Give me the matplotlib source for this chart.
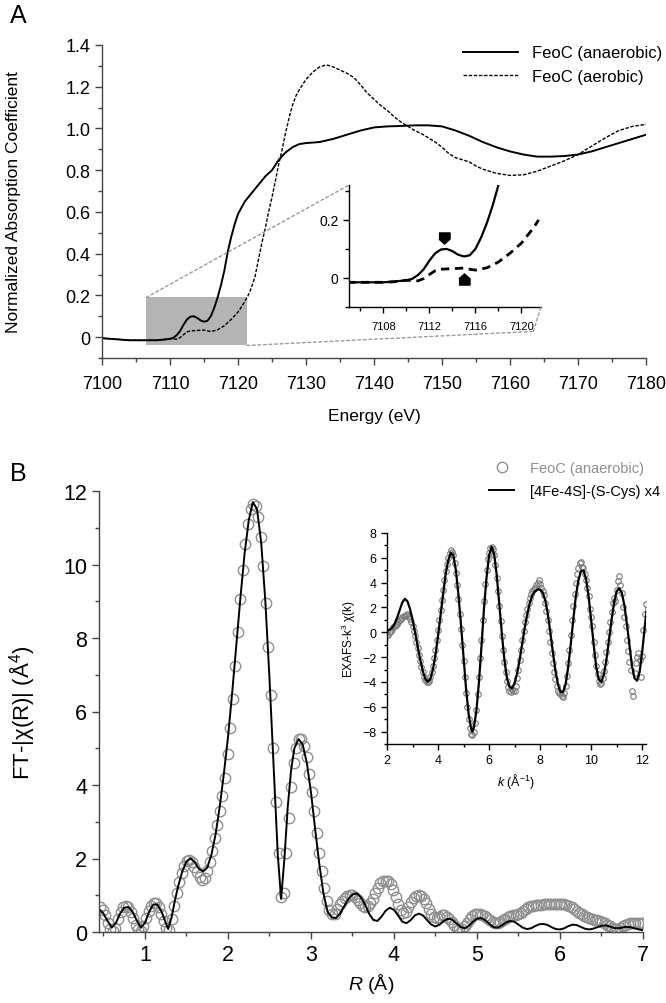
import matplotlib
matplotlib.use('Agg')
import matplotlib.pyplot as plt
import numpy as np
from matplotlib.patches import Rectangle, ConnectionPatch
from matplotlib.ticker import MultipleLocator, FuncFormatter

plt.rcParams['font.family'] = ['Liberation Sans', 'DejaVu Sans']
plt.rcParams['mathtext.fontset'] = 'custom'
plt.rcParams['mathtext.rm'] = 'Liberation Sans'
plt.rcParams['mathtext.it'] = 'Liberation Sans:italic'

# ---- panel A: XANES ----
E_ana = [7100, 7102, 7104, 7106, 7108, 7109, 7110, 7110.5, 7111, 7111.5, 7112, 7112.5, 7113, 7113.5,
         7114, 7114.5, 7115, 7115.5, 7116, 7116.5, 7117, 7117.5, 7118, 7118.5, 7119, 7119.5, 7120,
         7121, 7122, 7123, 7124, 7125, 7126, 7127, 7128, 7129, 7130, 7132, 7134, 7136, 7138, 7140,
         7142, 7144, 7146, 7148, 7150, 7152, 7154, 7156, 7158, 7160, 7162, 7164, 7166, 7168, 7170,
         7172, 7174, 7176, 7178, 7180]
mu_ana = [-0.005, -0.01, -0.015, -0.015, -0.015, -0.012, -0.008, -0.003, 0.01, 0.03, 0.06, 0.085, 0.098, 0.1,
          0.092, 0.08, 0.074, 0.078, 0.1, 0.14, 0.19, 0.25, 0.32, 0.41, 0.48, 0.54, 0.59,
          0.65, 0.69, 0.73, 0.77, 0.8, 0.85, 0.885, 0.91, 0.925, 0.93, 0.935, 0.95, 0.97, 0.99, 1.005,
          1.01, 1.012, 1.015, 1.015, 1.01, 0.99, 0.965, 0.935, 0.91, 0.89, 0.875, 0.865, 0.865, 0.868, 0.875,
          0.89, 0.91, 0.93, 0.95, 0.97]

E_aer = [7100, 7102, 7104, 7106, 7108, 7109, 7110, 7111, 7111.5, 7112, 7112.5, 7113, 7114, 7115, 7115.5,
         7116, 7117, 7118, 7119, 7120, 7121, 7121.5, 7122, 7122.5, 7123, 7123.5, 7124, 7124.5, 7125,
         7125.5, 7126, 7126.5, 7127, 7127.5, 7128, 7128.5, 7129, 7130, 7131, 7132, 7133, 7134, 7135,
         7136, 7137, 7138, 7139, 7140, 7141, 7142, 7143, 7144, 7145, 7146, 7147, 7148, 7149, 7150,
         7151, 7152, 7153, 7154, 7155, 7156, 7158, 7160, 7162, 7164, 7166, 7168, 7170, 7172, 7174,
         7176, 7178, 7180]
mu_aer = [-0.005, -0.01, -0.015, -0.015, -0.015, -0.013, -0.008, -0.01, -0.002, 0.012, 0.025, 0.03, 0.032, 0.034, 0.03,
          0.027, 0.035, 0.055, 0.085, 0.12, 0.17, 0.2, 0.24, 0.29, 0.37, 0.45, 0.52, 0.6, 0.67,
          0.75, 0.83, 0.9, 0.98, 1.05, 1.11, 1.155, 1.185, 1.235, 1.27, 1.295, 1.305, 1.295, 1.28,
          1.265, 1.245, 1.21, 1.17, 1.14, 1.11, 1.085, 1.055, 1.03, 1.01, 0.99, 0.975, 0.955, 0.935, 0.91,
          0.88, 0.86, 0.85, 0.84, 0.82, 0.805, 0.785, 0.775, 0.778, 0.795, 0.82, 0.845, 0.875, 0.915, 0.955,
          0.99, 1.01, 1.02]

# pre-edge features marked in the inset
pre_edge_x = [7113.3, 7115.0]
pre_edge_y = [0.137, -0.003]

# ---- panel B: FT magnitude ----
ft_data = [0.68, 0.6, 0.45, 0.25, 0.08, 0.02, 0.12, 0.35, 0.55, 0.68,
           0.72, 0.68, 0.55, 0.38, 0.2, 0.07, 0.04, 0.15, 0.38, 0.58,
           0.72, 0.8, 0.78, 0.68, 0.5, 0.3, 0.1, 0.05, 0.35, 0.7,
           1.05, 1.35, 1.6, 1.8, 1.92, 1.95, 1.9, 1.78, 1.62, 1.5,
           1.42, 1.48, 1.65, 1.9, 2.2, 2.55, 2.9, 3.3, 3.7, 4.2,
           4.85, 5.55, 6.35, 7.25, 8.15, 9.05, 9.85, 10.55, 11.1, 11.5,
           11.65, 11.6, 11.3, 10.75, 9.95, 8.95, 7.75, 6.45, 5.0, 3.55,
           2.15, 0.95, 1.05, 2.15, 3.1, 3.95, 4.6, 5.0, 5.25, 5.25,
           5.05, 4.75, 4.3, 3.8, 3.3, 2.7, 2.15, 1.65, 1.2, 0.85,
           0.6, 0.48, 0.5, 0.62, 0.75, 0.85, 0.92, 0.98, 1.0, 1.0,
           0.95, 0.88, 0.8, 0.72, 0.68, 0.7, 0.78, 0.9, 1.05, 1.2,
           1.32, 1.38, 1.4, 1.38, 1.3, 1.15, 0.95, 0.75, 0.6, 0.52,
           0.55, 0.68, 0.82, 0.92, 0.98, 1.0, 0.98, 0.9, 0.78, 0.62,
           0.48, 0.4, 0.38, 0.42, 0.45, 0.45, 0.42, 0.36, 0.28, 0.2,
           0.12, 0.07, 0.08, 0.15, 0.25, 0.35, 0.43, 0.48, 0.5, 0.5,
           0.47, 0.43, 0.38, 0.33, 0.28, 0.25, 0.25, 0.28, 0.32, 0.36,
           0.4, 0.43, 0.45, 0.47, 0.5, 0.53, 0.58, 0.63, 0.67, 0.7,
           0.72, 0.73, 0.74, 0.74, 0.75, 0.75, 0.75, 0.76, 0.76, 0.76,
           0.77, 0.77, 0.76, 0.74, 0.71, 0.67, 0.62, 0.57, 0.52, 0.48,
           0.44, 0.41, 0.38, 0.36, 0.34, 0.32, 0.3, 0.28, 0.25, 0.2,
           0.15, 0.1, 0.07, 0.08, 0.12, 0.17, 0.2, 0.22, 0.24, 0.25,
           0.25, 0.25, 0.25, 0.25]
R_data = 0.46 + 0.0307 * np.arange(len(ft_data))

R_fit = [0.45, 0.5, 0.55, 0.6, 0.65, 0.7, 0.75, 0.8, 0.85, 0.9, 0.95, 1.0, 1.05, 1.1, 1.15, 1.2, 1.25,
         1.28, 1.32, 1.36, 1.4, 1.45, 1.5, 1.55, 1.6, 1.65, 1.7, 1.75, 1.8, 1.85, 1.9, 1.95, 2.0,
         2.05, 2.1, 2.15, 2.2, 2.25, 2.3, 2.35, 2.4, 2.45, 2.5, 2.55, 2.6, 2.64, 2.68, 2.72, 2.76,
         2.8, 2.85, 2.9, 2.95, 3.0, 3.05, 3.1, 3.15, 3.2, 3.25, 3.3, 3.35, 3.4, 3.45, 3.5, 3.55,
         3.6, 3.65, 3.7, 3.75, 3.8, 3.85, 3.9, 3.95, 4.0, 4.05, 4.1, 4.15, 4.2, 4.25, 4.3, 4.35,
         4.4, 4.45, 4.5, 4.55, 4.6, 4.65, 4.7, 4.75, 4.8, 4.85, 4.9, 4.95, 5.0, 5.05, 5.1, 5.15,
         5.2, 5.25, 5.3, 5.35, 5.4, 5.45, 5.5, 5.55, 5.6, 5.65, 5.7, 5.75, 5.8, 5.85, 5.9, 5.95,
         6.0, 6.05, 6.1, 6.15, 6.2, 6.25, 6.3, 6.35, 6.4, 6.45, 6.5, 6.55, 6.6, 6.65, 6.7, 6.75,
         6.8, 6.85, 6.9, 6.95, 7.0]
ft_fit = [0.62, 0.5, 0.3, 0.12, 0.25, 0.5, 0.66, 0.68, 0.55, 0.32, 0.12, 0.25, 0.55, 0.75, 0.75, 0.55, 0.25,
          0.08, 0.4, 0.85, 1.25, 1.65, 1.92, 2.0, 1.9, 1.72, 1.65, 1.75, 2.1, 2.65, 3.4, 4.3, 5.3,
          6.5, 7.8, 9.1, 10.3, 11.2, 11.7, 11.5, 10.6, 9.0, 6.9, 4.5, 2.1, 0.9, 2.0, 3.4, 4.4,
          5.0, 5.25, 5.1, 4.6, 3.8, 2.8, 1.85, 1.05, 0.55, 0.4, 0.38, 0.5, 0.7, 0.9, 1.02, 1.05,
          0.95, 0.75, 0.5, 0.33, 0.3, 0.42, 0.58, 0.66, 0.6, 0.45, 0.28, 0.24, 0.32, 0.45, 0.5, 0.45,
          0.32, 0.2, 0.15, 0.2, 0.3, 0.36, 0.34, 0.24, 0.14, 0.1, 0.16, 0.28, 0.36, 0.38, 0.32, 0.22,
          0.13, 0.12, 0.18, 0.26, 0.3, 0.28, 0.2, 0.12, 0.08, 0.1, 0.16, 0.21, 0.22, 0.19, 0.13, 0.08,
          0.07, 0.1, 0.16, 0.2, 0.19, 0.14, 0.09, 0.07, 0.09, 0.13, 0.17, 0.18, 0.15, 0.11, 0.1, 0.12,
          0.14, 0.13, 0.1, 0.07, 0.05]

# ---- panel B inset: k^3 chi(k) ----
chi_data = [-0.1, -0.2, 0.0, 0.1, 0.25, 0.4, 0.5, 0.6, 0.7, 0.85,
            1.0, 1.1, 1.25, 1.3, 1.35, 1.4, 1.45, 1.3, 1.1, 0.8,
            0.5, 0.1, -0.3, -0.8, -1.3, -1.8, -2.3, -2.8, -3.2, -3.6,
            -3.85, -4.0, -4.0, -3.9, -3.6, -3.2, -2.7, -2.1, -1.4, -0.6,
            0.2, 1.0, 1.8, 2.6, 3.4, 4.2, 4.9, 5.5, 6.0, 6.4,
            6.6, 6.5, 6.2, 5.6, 4.8, 3.8, 2.7, 1.5, 0.3, -1.0,
            -2.3, -3.6, -4.9, -6.0, -7.0, -7.7, -8.2, -8.3, -8.0, -7.3,
            -6.3, -5.0, -3.6, -2.1, -0.6, 1.0, 2.5, 3.9, 5.0, 5.9,
            6.4, 6.8, 6.9, 6.7, 6.2, 5.4, 4.4, 3.3, 2.1, 0.9,
            -0.3, -1.4, -2.4, -3.2, -3.9, -4.4, -4.7, -4.8, -4.6, -4.7,
            -4.7, -4.3, -3.7, -3.0, -2.2, -1.4, -0.6, 0.1, 0.8, 1.4,
            1.9, 2.4, 2.8, 3.1, 3.3, 3.5, 3.6, 3.8, 4.0, 4.2,
            3.9, 3.6, 3.3, 3.0, 2.4, 1.7, 1.0, 0.1, -0.8, -1.7,
            -2.5, -3.2, -3.8, -4.3, -4.7, -4.9, -5.0, -5.1, -5.2, -4.9,
            -4.3, -3.5, -2.5, -1.4, -0.2, 1.0, 2.1, 3.1, 4.0, 4.7,
            5.2, 5.6, 5.7, 5.3, 5.2, 4.7, 4.2, 3.6, 2.9, 1.9,
            1.2, 0.5, -0.8, -1.8, -2.7, -3.4, -3.9, -4.2, -4.1, -3.7,
            -3.1, -2.4, -1.6, -0.8, 0.0, 0.8, 1.6, 2.4, 2.8, 2.5,
            3.4, 4.1, 4.5, 3.8, 3.2, 2.0, 1.2, 0.5, -0.6, -1.5,
            -2.4, -3.0, -4.7, -5.1, -3.3, -2.5, -2.0, -1.7, -2.2, -3.6,
            -1.9, 0.2, 1.5, 2.3]
k_data = 2.0 + 0.05 * np.arange(len(chi_data))

k_fit = [2.0, 2.1, 2.2, 2.3, 2.4, 2.5, 2.6, 2.7, 2.8, 2.9, 3.0, 3.1, 3.2, 3.3, 3.4, 3.5, 3.6, 3.7,
         3.8, 3.9, 4.0, 4.1, 4.2, 4.3, 4.4, 4.5, 4.6, 4.7, 4.8, 4.9, 5.0, 5.1, 5.2, 5.3, 5.35, 5.4,
         5.5, 5.6, 5.7, 5.8, 5.9, 6.0, 6.1, 6.2, 6.3, 6.4, 6.5, 6.6, 6.7, 6.8, 6.9, 7.0, 7.1, 7.2,
         7.3, 7.4, 7.5, 7.6, 7.7, 7.8, 7.9, 8.0, 8.1, 8.2, 8.3, 8.4, 8.5, 8.6, 8.7, 8.8, 8.9, 9.0,
         9.1, 9.2, 9.3, 9.4, 9.5, 9.6, 9.7, 9.8, 9.9, 10.0, 10.1, 10.2, 10.3, 10.4, 10.5, 10.6,
         10.7, 10.8, 10.9, 11.0, 11.1, 11.2, 11.3, 11.4, 11.5, 11.6, 11.7, 11.8, 11.9, 12.0, 12.1, 12.2]
chi_fit = [0.15, 0.2, 0.35, 0.7, 1.2, 1.8, 2.4, 2.7, 2.5, 1.9, 1.0, 0.0, -1.1, -2.2, -3.1, -3.75, -4.0, -3.75,
           -3.0, -1.8, -0.3, 1.4, 3.1, 4.7, 5.8, 6.4, 6.2, 5.0, 3.0, 0.6, -2.0, -4.6, -6.6, -7.8, -8.0, -7.7,
           -6.4, -4.1, -1.2, 1.9, 4.4, 6.2, 6.9, 6.3, 4.6, 2.3, -0.1, -2.2, -3.7, -4.4, -4.5, -4.1, -3.3, -2.2,
           -0.9, 0.4, 1.5, 2.4, 3.0, 3.3, 3.45, 3.45, 3.2, 2.6, 1.5, 0.0, -1.6, -3.1, -4.2, -4.8, -4.8, -4.2,
           -2.8, -1.0, 1.0, 2.9, 4.2, 4.9, 5.0, 4.3, 2.9, 1.0, -1.0, -2.8, -3.8, -4.0, -3.4, -2.2,
           -0.6, 1.0, 2.4, 3.3, 3.55, 3.2, 2.2, 0.7, -1.0, -2.7, -3.7, -3.9, -3.2, -1.6, 0.4, 2.3]

W, H = 666, 1004
fig = plt.figure(figsize=(W / 100, H / 100), dpi=100)


def add_px_axes(l, t, r, b):
    return fig.add_axes([l / W, 1 - b / H, (r - l) / W, (b - t) / H])


def style_axes(a, size, col='#444444'):
    for s in ['top', 'right']:
        a.spines[s].set_visible(False)
    for s in ['left', 'bottom']:
        a.spines[s].set_color(col)
        a.spines[s].set_linewidth(1.0)
    a.tick_params(which='both', direction='out', colors=col, labelcolor='black', labelsize=size)
    a.tick_params(which='major', length=5, width=1)
    a.tick_params(which='minor', length=3, width=1)


# ================= Panel A =================
axA = add_px_axes(102, 46, 646, 359)
style_axes(axA, 13)
axA.add_patch(Rectangle((7106.5, -0.04), 14.8, 0.23, facecolor='#b4b4b4', edgecolor='none', zorder=0))
axA.plot(E_ana, mu_ana, color='black', lw=1.4, label='FeoC (anaerobic)')
axA.plot(E_aer, mu_aer, color='black', lw=1.0, ls=(0, (2.5, 1.2)), label='FeoC (aerobic)')
axA.set_xlim(7100, 7180)
axA.set_ylim(-0.1, 1.4)
axA.xaxis.set_major_locator(MultipleLocator(10))
axA.xaxis.set_minor_locator(MultipleLocator(5))
axA.yaxis.set_major_locator(MultipleLocator(0.2))
axA.yaxis.set_minor_locator(MultipleLocator(0.1))
axA.yaxis.set_major_formatter(FuncFormatter(lambda v, p: '0' if abs(v) < 1e-9 else f'{v:.1f}'))
axA.tick_params(axis='x', pad=7)
axA.set_xlabel('Energy (eV)', fontsize=12.5, labelpad=12)
axA.set_ylabel('Normalized Absorption Coefficient', fontsize=12.5)
axA.yaxis.set_label_coords(-0.148, 0.5)
legA = axA.legend(loc='upper left', bbox_to_anchor=(455 / W, 1 - 38 / H), bbox_transform=fig.transFigure,
                  frameon=False, fontsize=12, handlelength=3.3, handletextpad=0.8, labelspacing=0.5,
                  borderpad=0)

# inset A
axAi = add_px_axes(349, 186, 541, 308)
axAi.patch.set_alpha(0)
style_axes(axAi, 8, col='black')
E_a = np.array(E_ana)
E_b = np.array(E_aer)
mi = E_a <= 7118.3
axAi.plot(E_a[mi], np.array(mu_ana)[mi], color='black', lw=1.6)
mj = E_b <= 7121.5
axAi.plot(E_b[mj], np.array(mu_aer)[mj], color='black', lw=2.0, ls=(0, (3, 2)))
down_arrow = [(-1, 1), (1, 1), (1, -0.1), (0, -1), (-1, -0.1)]
up_arrow = [(-1, -1), (1, -1), (1, 0.1), (0, 1), (-1, 0.1)]
axAi.plot(pre_edge_x[0], pre_edge_y[0], marker=down_arrow, ms=8, color='black', ls='none')
axAi.plot(pre_edge_x[1], pre_edge_y[1], marker=up_arrow, ms=8, color='black', ls='none')
axAi.set_xlim(7105, 7121.7)
axAi.set_ylim(-0.1, 0.32)
axAi.xaxis.set_minor_locator(MultipleLocator(2))
axAi.set_xticks([7108, 7112, 7116, 7120])
axAi.yaxis.set_major_locator(MultipleLocator(0.2))
axAi.yaxis.set_minor_locator(MultipleLocator(0.1))
axAi.yaxis.set_major_formatter(FuncFormatter(lambda v, p: '0' if abs(v) < 1e-9 else f'{v:.1f}'))
axAi.tick_params(axis='y', labelsize=10)
axAi.tick_params(which='major', length=4)
axAi.tick_params(which='minor', length=3)
axAi.tick_params(axis='x', pad=6)

con_kw = dict(color='#9a9a9a', lw=1.0, ls=(0, (2, 2)))
c1 = ConnectionPatch(xyA=(7106.5, 0.19), coordsA=axA.transData, xyB=(0, 1), coordsB=axAi.transAxes, **con_kw)
fig.add_artist(c1)
c2 = ConnectionPatch(xyA=(7121.3, -0.04), coordsA=axA.transData, xyB=(0.96, -0.2), coordsB=axAi.transAxes, **con_kw)
fig.add_artist(c2)
c3 = ConnectionPatch(xyA=(0.96, -0.2), coordsA=axAi.transAxes, xyB=(1, 0), coordsB=axAi.transAxes, **con_kw)
fig.add_artist(c3)

fig.text(10 / W, 1 - 16 / H, 'A', fontsize=18, va='center', ha='left')

# ================= Panel B =================
axB = add_px_axes(99, 492, 643, 933)
style_axes(axB, 15.5)
axB.plot(R_data, ft_data, ls='none', marker='o', ms=7.5, mfc='none', mec='#8f8f8f', mew=1.0,
         label='FeoC (anaerobic)')
axB.plot(R_fit, ft_fit, color='black', lw=1.4, label='[4Fe-4S]-(S-Cys) x4')
axB.set_xlim(0.446, 7.0)
axB.set_ylim(0, 12)
axB.xaxis.set_major_locator(MultipleLocator(1))
axB.xaxis.set_minor_locator(MultipleLocator(0.5))
axB.yaxis.set_major_locator(MultipleLocator(2))
axB.yaxis.set_minor_locator(MultipleLocator(1))
axB.tick_params(axis='x', pad=4)
axB.set_xlabel('$R$ (Å)', fontsize=14, labelpad=4)
axB.set_ylabel('FT-|χ(R)| (Å$^4$)', fontsize=16)
axB.yaxis.set_label_coords(-0.114, 0.5)
legB = axB.legend(loc='upper left', bbox_to_anchor=(482 / W, 1 - 455 / H), bbox_transform=fig.transFigure,
                  frameon=False, fontsize=10.5, handlelength=1.7, handletextpad=1.1, labelspacing=0.6,
                  borderpad=0)
legB.get_texts()[0].set_color('#8f8f8f')

# inset B
axBi = add_px_axes(387, 534, 646, 745)
axBi.patch.set_alpha(0)
style_axes(axBi, 9, col='black')
axBi.plot(k_data, chi_data, ls='none', marker='o', ms=4, mfc='none', mec='#7a7a7a', mew=0.8)
axBi.plot(k_fit, chi_fit, color='black', lw=1.6)
axBi.set_xlim(2, 12.15)
axBi.set_ylim(-9, 8)
axBi.xaxis.set_major_locator(MultipleLocator(2))
axBi.xaxis.set_minor_locator(MultipleLocator(1))
axBi.set_yticks(np.arange(-8, 9, 2))
axBi.yaxis.set_minor_locator(MultipleLocator(1))
axBi.tick_params(which='major', length=4)
axBi.tick_params(which='minor', length=2.5)
axBi.set_xlabel('$k$ (Å$^{-1}$)', fontsize=9, labelpad=3)
axBi.set_ylabel('EXAFS-k$^3$ χ(k)', fontsize=8.5, labelpad=3)

fig.text(10 / W, 1 - 474 / H, 'B', fontsize=18, va='center', ha='left')

fig.savefig('out.png', dpi=100)
